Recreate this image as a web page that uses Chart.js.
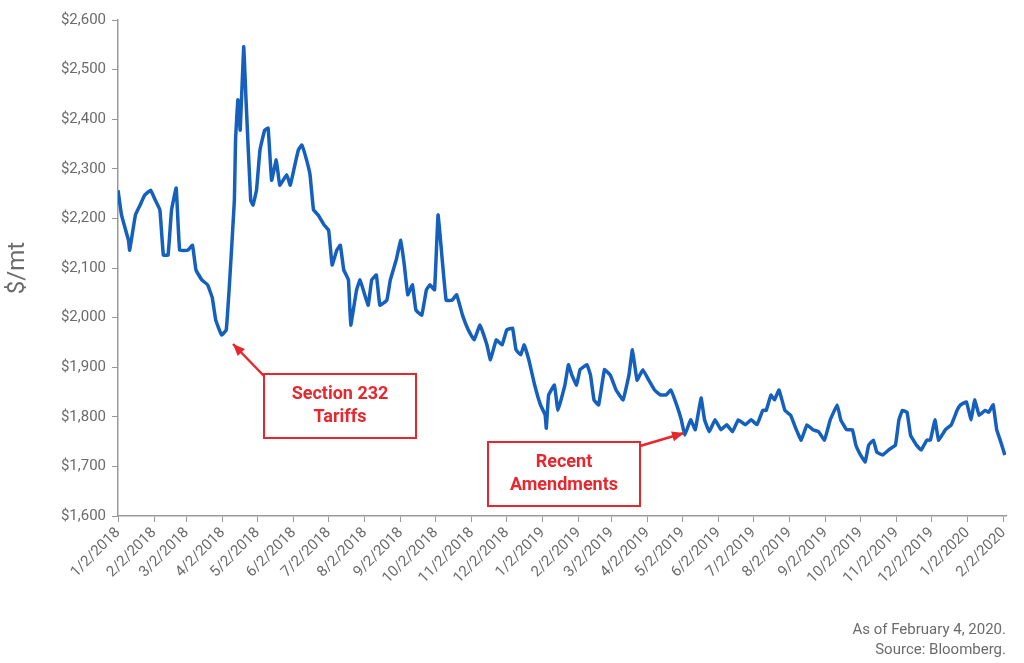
<!DOCTYPE html>
<html><head><meta charset="utf-8">
<script src="https://cdn.jsdelivr.net/npm/chart.js@4"></script>
<style>html,body{margin:0;padding:0;background:#fff}#w{width:1024px;height:663px}</style>
</head><body><div id="w"><canvas id="c"></canvas></div>
<script>
const tickDays=[0,31,59,90,120,151,181,212,243,273,304,334,365,396,424,455,485,516,546,577,608,638,669,699,730,761];
const tickLabels=["1/2/2018","2/2/2018","3/2/2018","4/2/2018","5/2/2018","6/2/2018","7/2/2018","8/2/2018","9/2/2018","10/2/2018","11/2/2018","12/2/2018","1/2/2019","2/2/2019","3/2/2019","4/2/2019","5/2/2019","6/2/2019","7/2/2019","8/2/2019","9/2/2019","10/2/2019","11/2/2019","12/2/2019","1/2/2020","2/2/2020"];
const days=[0,3,9,10,15,19,23,28,32,36,39,43,46,50,53,60,64,67,72,77,81,84,89,93,96,100,101,103,105,108,110,114,116,119,122,126,129,132,136,139,145,148,152,155,158,162,165,168,172,177,181,184,188,191,194,198,200,205,208,212,215,218,222,225,231,234,239,243,246,249,253,256,261,265,268,272,275,279,282,287,291,296,301,306,311,317,320,325,330,334,339,342,346,349,353,358,363,367,368,370,375,378,384,387,390,394,397,403,406,409,413,418,423,428,434,439,442,446,451,456,461,466,471,475,480,484,487,492,496,501,504,508,513,518,523,528,533,539,544,549,554,557,561,564,568,573,578,583,587,592,597,602,607,612,618,621,626,631,634,638,642,645,649,652,657,662,668,671,674,678,681,686,690,695,698,702,705,711,716,721,724,729,733,736,740,745,748,752,755,758,762];
const prices=[2257,2207,2156,2136,2207,2227,2247,2257,2237,2217,2126,2126,2217,2261,2136,2136,2146,2096,2076,2066,2040,1995,1965,1975,2076,2237,2358,2439,2378,2546,2439,2237,2227,2257,2338,2378,2382,2277,2318,2267,2288,2267,2308,2338,2348,2318,2288,2217,2207,2187,2176,2106,2136,2146,2096,2076,1985,2056,2076,2046,2025,2076,2086,2025,2035,2076,2116,2156,2106,2046,2066,2015,2005,2056,2066,2056,2207,2106,2035,2035,2046,2005,1975,1955,1985,1945,1915,1955,1945,1975,1979,1935,1925,1945,1915,1864,1824,1804,1777,1844,1864,1813,1864,1905,1884,1864,1895,1905,1884,1834,1824,1895,1884,1854,1834,1884,1935,1874,1895,1874,1854,1844,1844,1854,1824,1794,1763,1794,1774,1838,1794,1770,1794,1774,1784,1770,1794,1784,1794,1784,1813,1813,1844,1834,1854,1813,1803,1773,1753,1784,1774,1770,1753,1794,1824,1794,1774,1774,1743,1723,1709,1743,1753,1729,1723,1733,1743,1794,1813,1809,1763,1743,1733,1753,1753,1794,1753,1774,1784,1813,1824,1830,1794,1834,1803,1813,1809,1824,1774,1753,1723];
const FONT="'Liberation Sans Narrow','Roboto',sans-serif";
const grey='#6b6b6b';
const notes={
 id:'notes',
 afterDraw(ch){
  const c=ch.ctx;c.save();
  function arrow(x1,y1,x2,y2){
   c.strokeStyle='#e8262d';c.fillStyle='#e8262d';c.lineWidth=2.5;
   c.beginPath();c.moveTo(x1,y1);c.lineTo(x2,y2);c.stroke();
   const a=Math.atan2(y2-y1,x2-x1),L=13;
   c.beginPath();c.moveTo(x2,y2);c.lineTo(x2-L*Math.cos(a-0.4),y2-L*Math.sin(a-0.4));c.lineTo(x2-L*Math.cos(a+0.4),y2-L*Math.sin(a+0.4));c.closePath();c.fill();
  }
  function box(x,y,w,h,lines){
   c.fillStyle='#fff';c.fillRect(x,y,w,h);
   c.strokeStyle='#e8262d';c.lineWidth=2;c.strokeRect(x,y,w,h);
   c.fillStyle='#e8262d';c.font="bold 18px "+FONT;c.textAlign='center';c.textBaseline='middle';
   lines.forEach((t,i)=>c.fillText(t,x+w/2,y+h/2+(i-(lines.length-1)/2)*23));
  }
  arrow(264,376,233,344);
  box(264,374,152,64,["Section 232","Tariffs"]);
  arrow(640,446,684,433);
  box(488,442,152,64,["Recent","Amendments"]);
  c.fillStyle=grey;c.font="15px "+FONT;c.textAlign='right';c.textBaseline='middle';
  c.fillText("As of February 4, 2020.",1006,630);
  c.fillText("Source: Bloomberg.",1006,650);
  c.restore();
 }
};
new Chart(document.getElementById('c'),{
 type:'line',
 data:{datasets:[{data:days.map((d,i)=>({x:d,y:prices[i]})),borderColor:'#1560bd',borderWidth:3.5,pointRadius:0,tension:0.08,fill:false}]},
 options:{responsive:true,maintainAspectRatio:false,animation:false,
  layout:{padding:{top:20,right:18,bottom:50,left:0}},
  plugins:{legend:{display:false},tooltip:{enabled:false}},
  scales:{
   x:{type:'linear',min:0,max:763,
    afterBuildTicks(s){s.ticks=tickDays.map(v=>({value:v}));},
    afterFit(s){s.height=97;},
    grid:{display:true,drawOnChartArea:false,color:'#999',tickLength:6},
    border:{color:'#999',width:1.5},
    ticks:{autoSkip:false,minRotation:45,maxRotation:45,color:grey,font:{family:FONT,size:15},padding:2,
     callback:(v)=>{const i=tickDays.indexOf(v);return i>=0?tickLabels[i]:'';}}},
   y:{min:1600,max:2600,
    afterFit(s){s.width=118;},
    grid:{display:true,drawOnChartArea:false,color:'#999',tickLength:6},
    border:{color:'#999',width:1.5},
    title:{display:true,text:'$/mt',color:grey,font:{family:FONT,size:24},padding:{bottom:6}},
    ticks:{stepSize:100,color:grey,font:{family:FONT,size:15},padding:6,
     callback:v=>'$'+v.toLocaleString('en-US')}}
  }
 },
 plugins:[notes]
});
</script></body></html>
